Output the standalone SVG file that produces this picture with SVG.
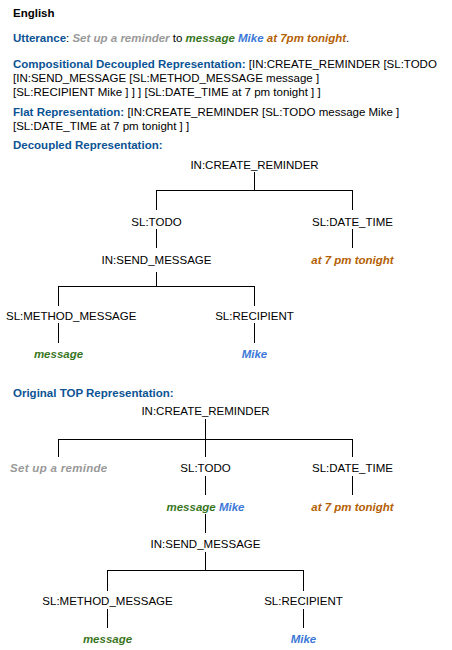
<svg xmlns="http://www.w3.org/2000/svg" width="452" height="650" viewBox="0 0 452 650">
<style>
text { font-family: "Liberation Sans", Arial, sans-serif; font-size: 11.5px; fill: #000; }
.b { font-weight: bold; }
.h { font-weight: bold; fill: #0b5394; }
.n { text-anchor: middle; }
.bi { font-weight: bold; font-style: italic; }
.gray { fill: #999999; }
.green { fill: #38761d; }
.blue { fill: #3c78d8; }
.orange { fill: #b45f06; }
.conn line { stroke: #000; stroke-width: 1; }
</style>
<defs>
<clipPath id="clipSet"><rect x="0" y="455" width="107" height="25"/></clipPath>
</defs>
<rect width="452" height="650" fill="#fff"/>

<g id="header">
<text class="b" x="13" y="16.5">English</text>
<text x="13" y="42"><tspan class="h">Utterance</tspan>: <tspan class="bi gray">Set up a reminder</tspan> to <tspan class="bi green">message</tspan> <tspan class="bi blue">Mike</tspan> <tspan class="bi orange">at 7pm tonight</tspan>.</text>
<text x="13" y="68"><tspan class="h">Compositional Decoupled Representation:</tspan> [IN:CREATE_REMINDER [SL:TODO</text>
<text x="13" y="82">[IN:SEND_MESSAGE [SL:METHOD_MESSAGE message ]</text>
<text x="13" y="96">[SL:RECIPIENT Mike ] ] ] [SL:DATE_TIME at 7 pm tonight ] ]</text>
<text x="13" y="116"><tspan class="h">Flat Representation:</tspan> [IN:CREATE_REMINDER [SL:TODO message Mike ]</text>
<text x="13" y="130">[SL:DATE_TIME at 7 pm tonight ] ]</text>
<text class="h" x="13" y="149">Decoupled Representation:</text>
<text class="h" x="13" y="396.5">Original TOP Representation:</text>
</g>

<g class="conn" id="connectors">
<!-- tree 1 -->
<line x1="254.5" y1="172" x2="254.5" y2="191"/>
<line x1="156.5" y1="190.5" x2="352.5" y2="190.5"/>
<line x1="156.5" y1="190" x2="156.5" y2="210"/>
<line x1="352.5" y1="190" x2="352.5" y2="210"/>
<line x1="156.5" y1="229" x2="156.5" y2="248"/>
<line x1="352.5" y1="229" x2="352.5" y2="248"/>
<line x1="156.5" y1="272" x2="156.5" y2="286"/>
<line x1="58.5" y1="286.5" x2="254.5" y2="286.5"/>
<line x1="58.5" y1="286" x2="58.5" y2="306"/>
<line x1="254.5" y1="286" x2="254.5" y2="306"/>
<line x1="58.5" y1="323" x2="58.5" y2="343"/>
<line x1="254.5" y1="323" x2="254.5" y2="343"/>
<!-- tree 2 -->
<line x1="205.5" y1="419" x2="205.5" y2="457"/>
<line x1="58.5" y1="439.5" x2="352.5" y2="439.5"/>
<line x1="58.5" y1="439" x2="58.5" y2="457"/>
<line x1="352.5" y1="439" x2="352.5" y2="457"/>
<line x1="205.5" y1="476" x2="205.5" y2="495"/>
<line x1="352.5" y1="476" x2="352.5" y2="495"/>
<line x1="205.5" y1="514" x2="205.5" y2="533"/>
<line x1="205.5" y1="552" x2="205.5" y2="571"/>
<line x1="107.5" y1="570.5" x2="303.5" y2="570.5"/>
<line x1="107.5" y1="570" x2="107.5" y2="591"/>
<line x1="303.5" y1="570" x2="303.5" y2="591"/>
<line x1="107.5" y1="609" x2="107.5" y2="628"/>
<line x1="303.5" y1="609" x2="303.5" y2="628"/>
</g>

<g id="t1-create-reminder"><text class="n" x="254.5" y="168.5">IN:CREATE_REMINDER</text></g>
<g id="t1-todo"><text class="n" x="156.5" y="225.5">SL:TODO</text></g>
<g id="t1-date-time"><text class="n" x="352.5" y="225.5">SL:DATE_TIME</text></g>
<g id="t1-send-message"><text class="n" x="156.5" y="263.5">IN:SEND_MESSAGE</text></g>
<g id="t1-date-value"><text class="n bi orange" x="352.5" y="263.5">at 7 pm tonight</text></g>
<g id="t1-method-message"><text x="6" y="320">SL:METHOD_MESSAGE</text></g>
<g id="t1-recipient"><text class="n" x="254.5" y="320">SL:RECIPIENT</text></g>
<g id="t1-message"><text class="n bi green" x="58.5" y="358">message</text></g>
<g id="t1-mike"><text class="n bi blue" x="254.5" y="358">Mike</text></g>

<g id="t2-create-reminder"><text class="n" x="205.5" y="415">IN:CREATE_REMINDER</text></g>
<g id="t2-setup" clip-path="url(#clipSet)"><text class="bi gray" x="10" y="472" textLength="102" lengthAdjust="spacing">Set up a reminder</text></g>
<g id="t2-todo"><text class="n" x="205.5" y="472">SL:TODO</text></g>
<g id="t2-date-time"><text class="n" x="352.5" y="472">SL:DATE_TIME</text></g>
<g id="t2-todo-value"><text class="n bi" x="205.5" y="510.5"><tspan class="green">message</tspan> <tspan class="blue">Mike</tspan></text></g>
<g id="t2-date-value"><text class="n bi orange" x="352.5" y="510.5">at 7 pm tonight</text></g>
<g id="t2-send-message"><text class="n" x="205.5" y="548">IN:SEND_MESSAGE</text></g>
<g id="t2-method-message"><text class="n" x="107.5" y="605">SL:METHOD_MESSAGE</text></g>
<g id="t2-recipient"><text class="n" x="303.5" y="605">SL:RECIPIENT</text></g>
<g id="t2-message"><text class="n bi green" x="107.5" y="643">message</text></g>
<g id="t2-mike"><text class="n bi blue" x="303.5" y="643">Mike</text></g>
</svg>
